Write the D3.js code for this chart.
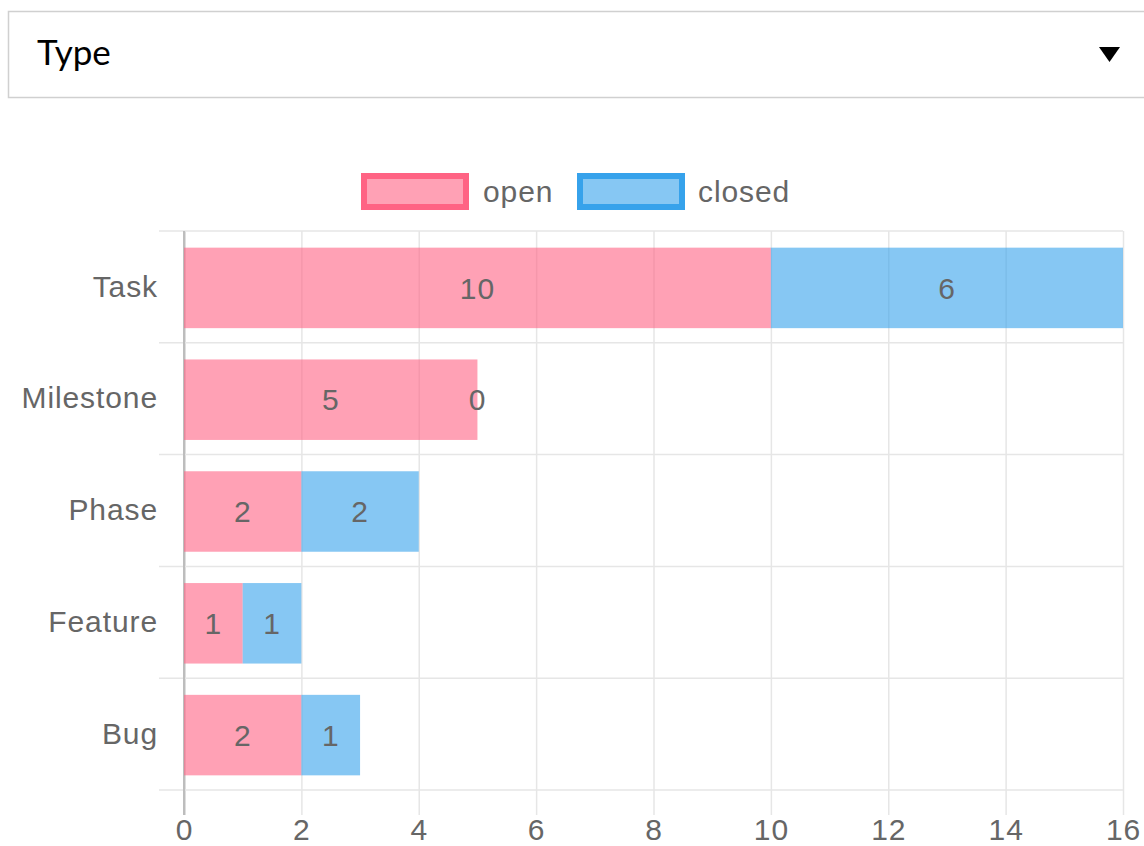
<!DOCTYPE html>
<html>
<head>
<meta charset="utf-8">
<script src="https://cdn.jsdelivr.net/npm/d3@7"></script>
<style>
  html, body { margin: 0; padding: 0; background: #fff; overflow: hidden; }
  svg { display: block; }
</style>
</head>
<body>
<svg id="chart" width="1144" height="846"></svg>
<script>
// Issue counts per type, split by status
const categories = ["Task", "Milestone", "Phase", "Feature", "Bug"];
const openValues = [10, 5, 2, 1, 2];
const closedValues = [6, 0, 2, 1, 1];
const xTicks = [0, 2, 4, 6, 8, 10, 12, 14, 16];
const seriesNames = ["open", "closed"];

const seriesColors = {
  open:   { fill: "rgba(255,99,132,0.6)", stroke: "rgb(255,99,132)" },
  closed: { fill: "rgba(54,162,235,0.6)", stroke: "rgb(54,162,235)" }
};

const FONT = "'Liberation Sans', Arial, Helvetica, sans-serif";
const FONT_SIZE = 30;
const SPACING = 0.9;
const TEXT = "#666";
const GRID = "#e6e6e6";

const svg = d3.select("#chart");

function styleText(sel) {
  return sel.attr("font-family", FONT).attr("font-size", FONT_SIZE)
    .attr("letter-spacing", SPACING).attr("fill", TEXT);
}

// Selector box with the current grouping
const select = svg.append("g");
select.append("rect")
  .attr("x", 8.5).attr("y", 11.5)
  .attr("width", 1160).attr("height", 86)
  .attr("fill", "#fff").attr("stroke", "#d0d0d0").attr("stroke-width", 1.5);
select.append("text")
  .attr("x", 37).attr("y", 65)
  .attr("font-family", "Lato, sans-serif").attr("font-size", 35)
  .attr("fill", "#000").text("Type");
const tri = d3.path();
tri.moveTo(1099, 47); tri.lineTo(1120, 47); tri.lineTo(1109.5, 62); tri.closePath();
select.append("path").attr("d", tri.toString()).attr("fill", "#000");

// Scales
const x = d3.scaleLinear().domain([0, 16]).range([184, 1123]);
const y = d3.scaleBand().domain(categories).range([231, 790]).padding(0);
const bw = y.bandwidth();
const barH = bw * 0.72;

// Vertical grid lines + x tick labels
const xAxis = svg.append("g")
  .attr("transform", "translate(0,815)")
  .call(d3.axisBottom(x).tickValues(xTicks).tickFormat(d3.format("d"))
    .tickSizeInner(-(815 - 231)).tickSizeOuter(0).tickPadding(4));
xAxis.select(".domain").remove();
xAxis.selectAll(".tick line")
  .attr("stroke", d => d === 0 ? "#bdbdbd" : GRID)
  .attr("stroke-width", d => d === 0 ? 2 : 1.5);
xAxis.selectAll(".tick text").call(styleText);

// Horizontal grid lines at category boundaries
const bounds = categories.map(c => y(c)).concat([y.range()[1]]);
svg.append("g").selectAll("line").data(bounds).join("line")
  .attr("x1", 159).attr("x2", 1123)
  .attr("y1", d => d).attr("y2", d => d)
  .attr("stroke", GRID).attr("stroke-width", 1.5);

// Zero axis line on top of the horizontal grid
svg.append("line")
  .attr("x1", x(0)).attr("x2", x(0))
  .attr("y1", 231).attr("y2", 815)
  .attr("stroke", "#bdbdbd").attr("stroke-width", 2);

// Category labels
const yAxis = svg.append("g")
  .attr("transform", `translate(${x(0)},0)`)
  .call(d3.axisLeft(y).tickSize(0).tickPadding(26));
yAxis.select(".domain").remove();
yAxis.selectAll(".tick text").call(styleText);

// Stacked segments
const rows = categories.map((c, i) => ({
  cat: c,
  segs: [
    { key: "open", x0: 0, x1: openValues[i], v: openValues[i] },
    { key: "closed", x0: openValues[i], x1: openValues[i] + closedValues[i], v: closedValues[i] }
  ]
}));

const rowG = svg.append("g").selectAll("g").data(rows).join("g")
  .attr("transform", d => `translate(0,${y(d.cat) + (bw - barH) / 2 + 1})`);

rowG.selectAll("rect").data(d => d.segs).join("rect")
  .attr("x", d => x(d.x0))
  .attr("width", d => x(d.x1) - x(d.x0))
  .attr("y", 0).attr("height", barH)
  .attr("fill", d => seriesColors[d.key].fill);

rowG.selectAll("text").data(d => d.segs).join("text")
  .attr("x", d => (x(d.x0) + x(d.x1)) / 2)
  .attr("y", barH / 2)
  .attr("dy", "0.36em")
  .attr("text-anchor", "middle")
  .call(styleText)
  .text(d => d.v);

// Legend
const legendItems = [
  { key: "open", bx: 364, tx: 483 },
  { key: "closed", bx: 580, tx: 698 }
];
const legend = svg.append("g").selectAll("g").data(legendItems).join("g");
legend.append("rect")
  .attr("x", d => d.bx).attr("y", 176)
  .attr("width", 102).attr("height", 31)
  .attr("fill", d => seriesColors[d.key].fill)
  .attr("stroke", d => seriesColors[d.key].stroke)
  .attr("stroke-width", 6);
legend.append("text")
  .attr("x", d => d.tx).attr("y", 191).attr("dy", "0.36em")
  .call(styleText)
  .text(d => d.key);
</script>
</body>
</html>
